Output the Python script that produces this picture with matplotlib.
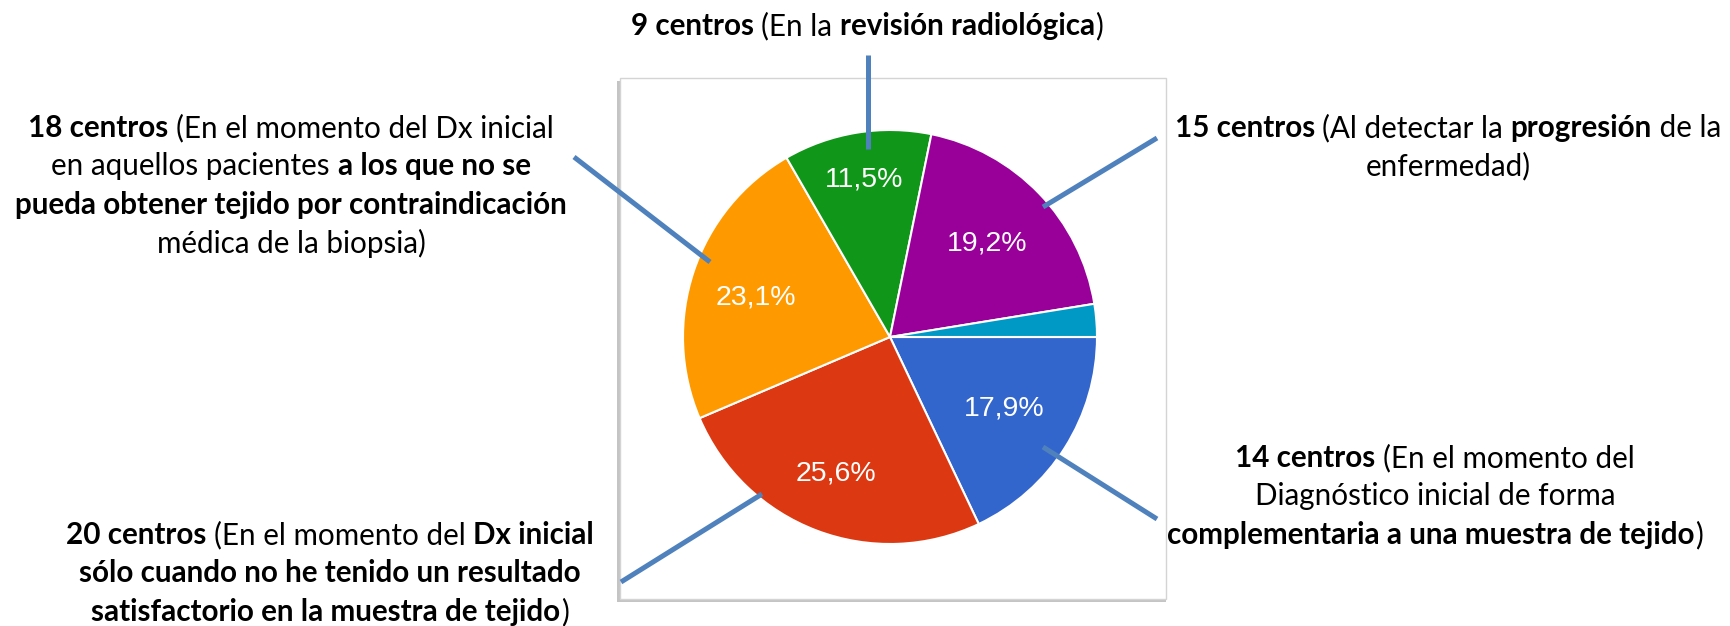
import matplotlib.pyplot as plt
from matplotlib.patches import Rectangle
from matplotlib.font_manager import FontProperties

# Datos del gráfico (número de centros)
valores = [14, 20, 18, 9, 15, 2]
colores = ['#3366CC', '#DC3912', '#FF9900', '#109618', '#990099', '#0099C6']

# Textos de las etiquetas: cada línea es una lista de (texto, negrita)
texto_arriba = [
    [('9 centros ', True), ('(En la ', False), ('revisión radiológica', True), (')', False)],
]
texto_izq_sup = [
    [('18 centros ', True), ('(En el momento del Dx inicial', False)],
    [('en aquellos pacientes ', False), ('a los que no se', True)],
    [('pueda obtener tejido por contraindicación', True)],
    [('médica de la biopsia)', False)],
]
texto_izq_inf = [
    [('20 centros ', True), ('(En el momento del ', False), ('Dx inicial', True)],
    [('sólo cuando no he tenido un resultado', True)],
    [('satisfactorio en la muestra de tejido', True), (')', False)],
]
texto_der_sup = [
    [('15 centros ', True), ('(Al detectar la ', False), ('progresión', True), (' de la', False)],
    [('enfermedad)', False)],
]
texto_der_inf = [
    [('14 centros ', True), ('(En el momento del', False)],
    [('Diagnóstico inicial de forma', False)],
    [('complementaria a una muestra de tejido', True), (')', False)],
]

W, H = 1731, 626
fig = plt.figure(figsize=(W / 100, H / 100), dpi=100)
ax = fig.add_axes([0, 0, 1, 1])

# Marco con sombra alrededor del gráfico
ax.add_patch(Rectangle((617, 81), 549, 521, facecolor='#c4c4c4', edgecolor='none', zorder=0))
ax.add_patch(Rectangle((620, 78), 546, 521, facecolor='white', edgecolor='#d4d4d4', lw=1, zorder=1))

# Pastel (eje y invertido -> counterclock=True se ve en sentido horario)
def fmt(p):
    return f'{p:.1f}%'.replace('.', ',') if p > 5 else ''

wedges, textos, autotextos = ax.pie(
    valores, colors=colores, startangle=0, counterclock=True,
    center=(890, 337), radius=207, autopct=fmt, pctdistance=0.65,
    wedgeprops=dict(edgecolor='white', linewidth=1.5),
    textprops=dict(color='white', fontsize=20.5, family='Liberation Sans'))
for w in wedges:
    w.set_zorder(2)
for t in autotextos:
    t.set_zorder(3)
autotextos[1].set_position((836, 474))
autotextos[2].set_position((756, 298))
autotextos[3].set_position((864, 180))

ax.set_xlim(0, W)
ax.set_ylim(H, 0)
ax.axis('off')

# Líneas de conexión
azul = '#4F81BD'
lineas = [
    ((868, 55), (868, 149)),
    ((574, 157), (710, 262)),
    ((1157, 138), (1043, 207)),
    ((1043, 447), (1157, 519)),
    ((621, 582), (762, 494)),
]
for (x0, y0), (x1, y1) in lineas:
    ax.plot([x0, x1], [y0, y1], color=azul, lw=3.6, solid_capstyle='butt', zorder=4)

# Texto con partes en negrita, centrado por líneas
fig.canvas.draw()
r = fig.canvas.get_renderer()
TAM = 21.3


def ancho(s, bold):
    fp = FontProperties(family='Lato', weight='bold' if bold else 'normal', size=TAM)
    w1 = r.get_text_width_height_descent(s + '|', fp, ismath=False)[0]
    w2 = r.get_text_width_height_descent('|', fp, ismath=False)[0]
    return w1 - w2


def bloque(cx, y0, lineas_txt, paso=38.5):
    for i, linea in enumerate(lineas_txt):
        anchos = [ancho(s, b) for s, b in linea]
        x = cx - sum(anchos) / 2
        y = y0 + i * paso
        for (s, b), w in zip(linea, anchos):
            ax.text(x, y, s, family='Lato', fontsize=TAM, fontweight='bold' if b else 'normal',
                    ha='left', va='center', color='black', zorder=5)
            x += w


bloque(867, 26, texto_arriba)
bloque(291, 128, texto_izq_sup)
bloque(330, 535, texto_izq_inf)
bloque(1448, 128, texto_der_sup)
bloque(1435, 458, texto_der_inf)

fig.savefig('out.png', dpi=100)
